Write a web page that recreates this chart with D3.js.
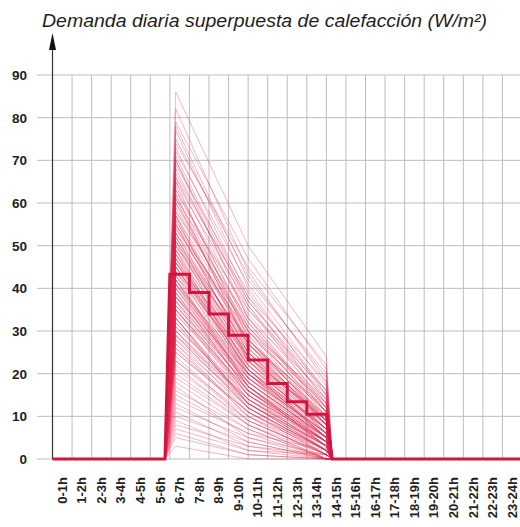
<!DOCTYPE html>
<html>
<head>
<meta charset="utf-8">
<script src="https://cdn.jsdelivr.net/npm/d3@7"></script>
<style>
  html, body { margin: 0; padding: 0; background: #ffffff; }
  svg { display: block; }
</style>
</head>
<body>
<script>
// Franjas horarias del eje X
const franjas = ["0-1h","1-2h","2-3h","3-4h","4-5h","5-6h","6-7h","7-8h","8-9h","9-10h",
  "10-11h","11-12h","12-13h","13-14h","14-15h","15-16h","16-17h","17-18h","18-19h","19-20h",
  "20-21h","21-22h","22-23h","23-24h"];

// Marcas del eje Y (W/m²)
const marcasY = [0, 10, 20, 30, 40, 50, 60, 70, 80, 90];

// Demanda media de cada franja horaria (W/m²)
const mediaFranja = [0, 0, 0, 0, 0, 0, 43.3, 39, 34, 29, 23.2, 17.7, 13.4, 10.5,
  0, 0, 0, 0, 0, 0, 0, 0, 0, 0];

// Horas en las que se registra cada curva diaria
const horasCurva = [5.75, 6.3, 10, 14, 14.3];

// Curvas diarias: demanda en el pico (6:18), a las 10h y a las 14h
const pico = [
  86, 82, 79, 77, 75, 73, 72, 70, 69, 68,
  67, 66, 65, 64, 63, 62, 61, 60, 60, 59,
  58, 57, 57, 56, 55, 55, 54, 53, 53, 52,
  52, 51, 51, 50, 50, 49, 49, 48, 48, 47,
  47, 46, 46, 45, 45, 44, 44, 43, 43, 42,
  42, 41, 41, 40, 40, 39, 39, 38, 38, 37,
  36, 36, 35, 35, 34, 33, 33, 32, 31, 30,
  30, 29, 28, 27, 26, 25, 24, 23, 22, 21,
  78, 74, 71, 66, 63, 58, 56, 54, 50, 46,
  44, 41, 38, 34, 31, 28, 19, 16, 12, 8,
  48, 45, 43, 40, 37, 35, 33, 30, 27, 25,
  52, 47, 42, 39, 36, 32, 29, 26, 23, 20,
  65, 61, 57, 53, 49, 45, 41, 37, 33, 29,
  70, 62, 55, 51, 46, 42, 38, 35, 18, 14,
  17, 15, 13, 11, 10, 9, 7, 6, 5, 3];
const a10h = [
  50, 44, 47, 40, 43, 38, 41, 36, 39, 35,
  37, 33, 36, 31, 34, 30, 35, 29, 32, 30,
  31, 27, 30, 28, 29, 25, 28, 26, 30, 24,
  27, 25, 28, 24, 26, 23, 27, 22, 25, 24,
  22, 24, 21, 23, 20, 22, 19, 21, 23, 20,
  19, 21, 18, 20, 17, 19, 16, 18, 20, 17,
  17, 15, 16, 14, 15, 14, 12, 13, 14, 12,
  13, 12, 11, 12, 10, 11, 9, 10, 8, 9,
  42, 45, 37, 38, 32, 33, 27, 31, 28, 25,
  24, 20, 19, 16, 15, 13, 8, 7, 5, 3,
  20, 21, 17, 18, 15, 16, 13, 14, 10, 11,
  23, 19, 18, 16, 17, 13, 12, 11, 9, 8,
  28, 27, 23, 24, 20, 21, 17, 18, 13, 14,
  33, 26, 25, 21, 22, 17, 16, 15, 7, 6,
  5, 6, 4, 3, 4, 2, 2, 1, 1, 0];
const a14h = [
  24, 18, 21, 15, 19, 13, 17, 12, 16, 14,
  15, 11, 14, 10, 13, 9, 16, 8, 12, 11,
  12, 8, 11, 9, 13, 7, 10, 9, 14, 6,
  10, 8, 11, 7, 9, 6, 12, 5, 8, 9,
  7, 9, 5, 8, 4, 7, 6, 5, 10, 6,
  5, 7, 4, 6, 3, 6, 4, 5, 8, 4,
  5, 3, 4, 2, 4, 3, 1, 3, 4, 2,
  3, 2, 1, 2, 0, 2, 1, 2, 0, 1,
  20, 22, 16, 18, 11, 15, 8, 13, 11, 10,
  9, 7, 6, 5, 4, 3, 1, 0, 0, 0,
  5, 6, 3, 5, 2, 4, 2, 3, 1, 2,
  7, 4, 5, 3, 4, 2, 2, 1, 1, 0,
  9, 10, 6, 8, 5, 7, 3, 5, 2, 3,
  12, 8, 9, 5, 7, 4, 3, 4, 0, 0,
  1, 2, 0, 1, 0, 0, 1, 0, 0, 0];

const W = 520, H = 527;
const svg = d3.select("body").append("svg").attr("width", W).attr("height", H);

const x = d3.scaleLinear().domain([0, 24]).range([52.5, 522]);
const y = d3.scaleLinear().domain([0, 90]).range([459, 75]);

const gridColor = "#bdbdbd";
const fuente = "Liberation Sans, Arial, sans-serif";

// Rejilla horizontal (con marca a la izquierda del eje)
svg.append("g").selectAll("line").data(marcasY).join("line")
  .attr("x1", 37).attr("x2", W)
  .attr("y1", d => y(d)).attr("y2", d => y(d))
  .attr("stroke", gridColor).attr("stroke-width", 1);

// Rejilla vertical en el límite de cada franja
svg.append("g").selectAll("line").data(d3.range(1, 25)).join("line")
  .attr("x1", d => x(d)).attr("x2", d => x(d))
  .attr("y1", y(90)).attr("y2", y(0))
  .attr("stroke", gridColor).attr("stroke-width", 1);

// Etiquetas del eje Y
svg.append("g").selectAll("text").data(marcasY).join("text")
  .attr("x", 27).attr("y", d => y(d)).attr("dy", "0.36em")
  .attr("text-anchor", "end")
  .attr("font-family", fuente)
  .attr("font-size", 13.5).attr("font-weight", "bold").attr("fill", "#1e1e1e")
  .text(d => d);

// Curvas diarias superpuestas
const linea = d3.line().x(d => x(d[0])).y(d => y(d[1]));
const curvas = pico.map((p, i) => {
  const vals = [0, p, a10h[i], a14h[i], 0];
  return horasCurva.map((h, j) => [h, vals[j]]);
});
svg.append("g").selectAll("path").data(curvas).join("path")
  .attr("d", linea)
  .attr("fill", "none")
  .attr("stroke", "rgb(222, 34, 76)")
  .attr("stroke-opacity", 0.36)
  .attr("stroke-width", 0.9);

// Línea escalonada de la demanda media, con rampas al arrancar y al parar
const puntosMedia = [[0, mediaFranja[0]]];
mediaFranja.forEach((v, i) => {
  const prev = i > 0 ? mediaFranja[i - 1] : v;
  const next = i < mediaFranja.length - 1 ? mediaFranja[i + 1] : v;
  if (prev === 0 && v > 0) {
    puntosMedia.push([i - 0.25, 0]);
    puntosMedia.push([i, v]);
  } else if (prev > 0 && v === 0) {
    puntosMedia.push([i + 0.3, 0]);
  } else {
    puntosMedia.push([i, v]);
  }
  if (v > 0) puntosMedia.push([i + 1, v]);
});
puntosMedia.push([24, mediaFranja[23]]);
svg.append("path")
  .attr("d", linea(puntosMedia))
  .attr("fill", "none")
  .attr("stroke", "#d2143e")
  .attr("stroke-width", 3)
  .attr("stroke-linejoin", "miter");

// Eje Y con flecha
svg.append("line")
  .attr("x1", x(0)).attr("x2", x(0))
  .attr("y1", y(0)).attr("y2", 46)
  .attr("stroke", "#333").attr("stroke-width", 1.2);
svg.append("path")
  .attr("d", `M${x(0)},33 L${x(0) - 3.5},50 L${x(0) + 3.5},50 Z`)
  .attr("fill", "#111");

// Etiquetas del eje X, giradas
svg.append("g").selectAll("text").data(franjas).join("text")
  .attr("transform", (d, i) => `translate(${x(i + 0.5) + 4.5},477) rotate(-90)`)
  .attr("text-anchor", "end")
  .attr("font-family", fuente)
  .attr("font-size", 13).attr("font-weight", "bold").attr("fill", "#1e1e1e")
  .text(d => d);

// Título
svg.append("text")
  .attr("x", 42).attr("y", 27)
  .attr("font-family", fuente)
  .attr("font-size", 18).attr("font-style", "italic").attr("fill", "#1e1e1e")
  .attr("textLength", 445).attr("lengthAdjust", "spacingAndGlyphs")
  .text("Demanda diaria superpuesta de calefacción (W/m²)");
</script>
</body>
</html>
